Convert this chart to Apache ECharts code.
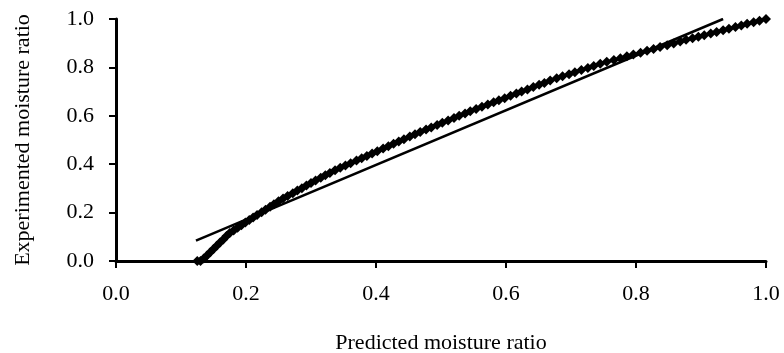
<!DOCTYPE html>
<html>
<head>
<meta charset="utf-8">
<script src="https://cdn.jsdelivr.net/npm/echarts@6/dist/echarts.min.js"></script>
<style>
  html, body { margin: 0; padding: 0; background: #fff; }
  #chart { width: 784px; height: 353px; }
</style>
</head>
<body>
<div id="chart"></div>
<script>
// predicted vs experimented moisture ratio
const predicted = [
  0.125, 0.130, 0.135, 0.140, 0.145, 0.150, 0.155, 0.160, 0.165, 0.170, 0.175,
  0.181, 0.187, 0.193, 0.199, 0.205, 0.211, 0.217,
  0.224, 0.230, 0.237, 0.243, 0.250,
  0.257, 0.264, 0.272, 0.279, 0.286, 0.293, 0.300, 0.307, 0.315, 0.322, 0.329,
  0.337, 0.345,
  0.353, 0.361, 0.370, 0.378, 0.386, 0.394, 0.402, 0.411, 0.419, 0.427, 0.435, 0.443, 0.452, 0.460, 0.468,
  0.477, 0.485, 0.494, 0.502, 0.511, 0.520, 0.528, 0.537, 0.545,
  0.554, 0.563, 0.572, 0.581, 0.589, 0.598, 0.607, 0.616, 0.624, 0.633, 0.642, 0.651, 0.659, 0.668,
  0.678, 0.687, 0.697, 0.706, 0.716, 0.726, 0.735, 0.745,
  0.755, 0.766, 0.776, 0.786, 0.796, 0.807, 0.817, 0.827, 0.837, 0.848, 0.858, 0.868,
  0.877, 0.887, 0.896, 0.905, 0.915, 0.924, 0.934, 0.943, 0.953, 0.962, 0.971, 0.981, 0.990, 1.000
];
const experimented = [
  0.000, 0.000, 0.010, 0.023, 0.036, 0.050, 0.063, 0.076, 0.089, 0.103, 0.116,
  0.126, 0.137, 0.148, 0.159, 0.169, 0.180, 0.190,
  0.201, 0.212, 0.224, 0.235, 0.247,
  0.258, 0.269, 0.280, 0.291, 0.301, 0.312, 0.322, 0.333, 0.344, 0.354, 0.364,
  0.375, 0.385,
  0.395, 0.404, 0.415, 0.425, 0.434, 0.444, 0.454, 0.465, 0.474, 0.484, 0.494, 0.503, 0.514, 0.524, 0.533,
  0.543, 0.552, 0.562, 0.571, 0.581, 0.591, 0.600, 0.610, 0.619,
  0.628, 0.637, 0.647, 0.656, 0.664, 0.673, 0.683, 0.692, 0.700, 0.709, 0.719, 0.728, 0.736, 0.746,
  0.755, 0.763, 0.772, 0.780, 0.789, 0.798, 0.806, 0.815,
  0.823, 0.831, 0.838, 0.846, 0.853, 0.861, 0.869, 0.876, 0.884, 0.892, 0.899, 0.907,
  0.914, 0.920, 0.927, 0.933, 0.940, 0.946, 0.953, 0.960, 0.967, 0.973, 0.980, 0.987, 0.993, 1.000
];

// linear trend line end points
const trendX = [0.123, 0.934];
const trendY = [0.084, 1.0];

const chart = echarts.init(document.getElementById('chart'), null, { renderer: 'canvas' });

const font = '"Liberation Serif", "Times New Roman", serif';

const axisCommon = {
  type: 'value',
  min: 0,
  max: 1,
  interval: 0.2,
  splitLine: { show: false },
  axisLine: { show: true, onZero: false, lineStyle: { color: '#000', width: 3 } },
  axisTick: { show: true, inside: false, length: 7, lineStyle: { color: '#000', width: 2 } },
  axisLabel: {
    color: '#000',
    fontFamily: font,
    fontSize: 22,
    formatter: (v) => v.toFixed(1),
  },
  nameLocation: 'middle',
  nameTextStyle: { color: '#000', fontFamily: font, fontSize: 22 },
};

const option = {
  animation: false,
  backgroundColor: '#fff',
  grid: { left: 116, right: 18, top: 19, bottom: 92, outerBoundsMode: 'none', containLabel: false },
  xAxis: {
    ...axisCommon,
    name: 'Predicted moisture ratio',
    nameGap: 71,
    axisLabel: { ...axisCommon.axisLabel, margin: 22 },
  },
  yAxis: {
    ...axisCommon,
    name: 'Experimented moisture ratio',
    nameGap: 82,
    axisLabel: { ...axisCommon.axisLabel, margin: 22 },
  },
  series: [
    {
      type: 'line',
      data: trendX.map((x, i) => [x, trendY[i]]),
      showSymbol: false,
      symbol: 'none',
      lineStyle: { color: '#000', width: 2.5 },
      z: 2,
    },
    {
      type: 'scatter',
      data: predicted.map((x, i) => [x, experimented[i]]),
      symbol: 'diamond',
      symbolSize: 10,
      itemStyle: { color: '#000', opacity: 1 },
      z: 3,
    },
  ],
};

chart.setOption(option);
window.addEventListener('resize', chart.resize);
</script>
</body>
</html>
